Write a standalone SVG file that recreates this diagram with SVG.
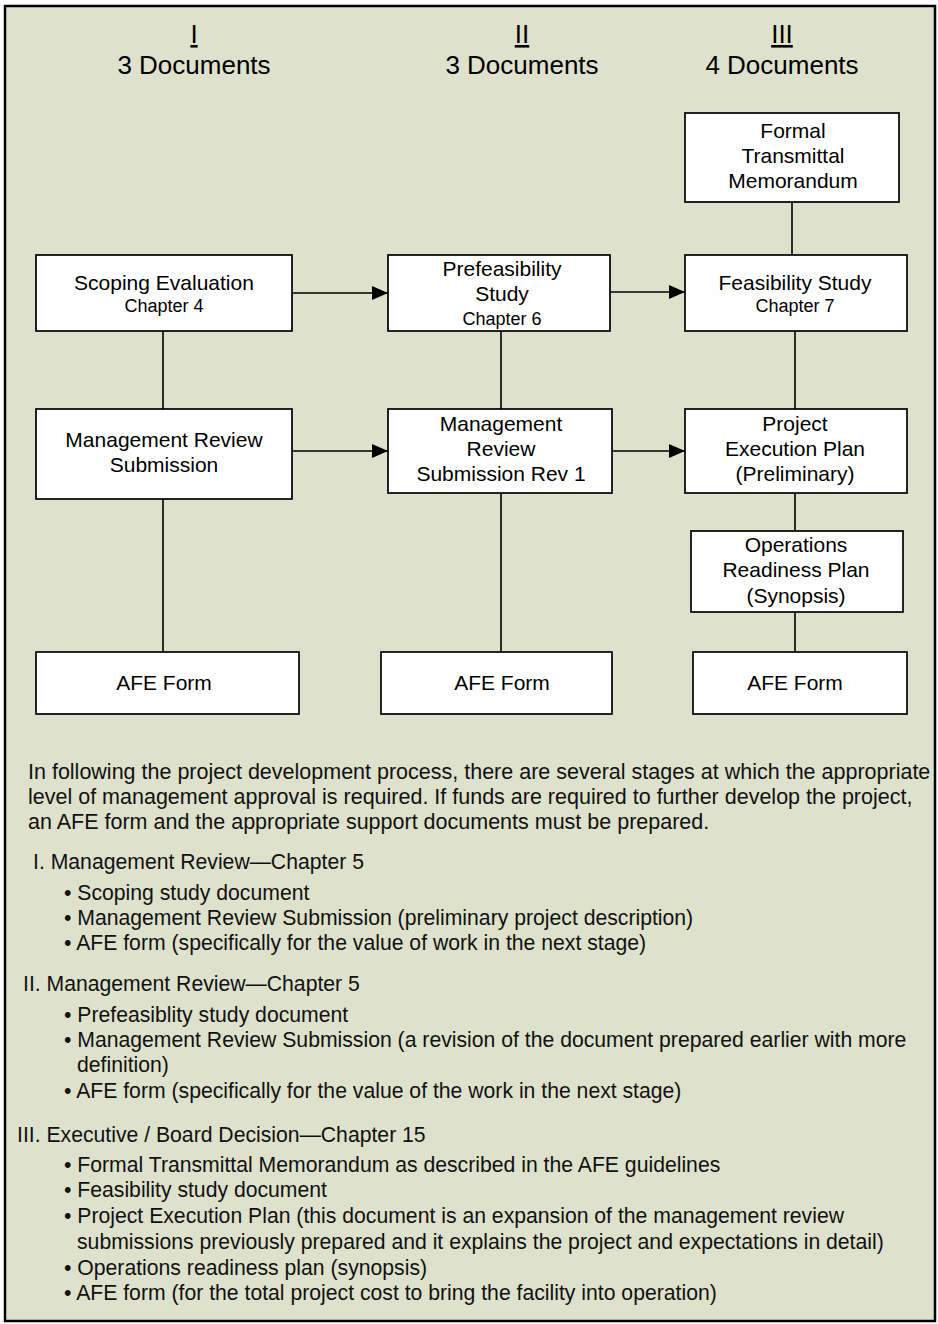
<svg xmlns="http://www.w3.org/2000/svg" width="938" height="1324" viewBox="0 0 938 1324">
  <defs>
    <marker id="arrow" markerWidth="16" markerHeight="14" refX="16" refY="7" orient="auto" markerUnits="userSpaceOnUse">
      <path d="M0,0 L16,7 L0,14 Z" fill="#000"/>
    </marker>
    <style>
      .frame { fill: #DEE1CB; stroke: #000; stroke-width: 2.5; }
      .box { fill: #FFFFFF; stroke: #000; stroke-width: 1.7; }
      .t { font-family: "Liberation Sans", Arial, sans-serif; fill: #000; text-anchor: middle; }
      .lbl { font-size: 21px; }
      .ch { font-size: 18px; }
      .hdr { font-size: 26px; }
      .body { font-family: "Liberation Sans", Arial, sans-serif; font-size: 21.2px; fill: #111; }
      .intro { font-size: 21.5px; }
      .line { stroke: #000; stroke-width: 1.6; fill: none; }
      .arr { stroke: #000; stroke-width: 1.6; fill: none; marker-end: url(#arrow); }
    </style>
  </defs>

  <!-- panel -->
  <rect class="frame" x="5" y="6" width="930" height="1315"/>

  <!-- column headings -->
  <g id="headings">
    <text class="t hdr" x="194" y="43" text-decoration="underline">I</text>
    <text class="t hdr" x="194" y="74">3 Documents</text>
    <text class="t hdr" x="522" y="43" text-decoration="underline">II</text>
    <text class="t hdr" x="522" y="74">3 Documents</text>
    <text class="t hdr" x="782" y="43" text-decoration="underline">III</text>
    <text class="t hdr" x="782" y="74">4 Documents</text>
  </g>

  <!-- connectors -->
  <g id="connectors">
    <line class="line" x1="163" y1="331" x2="163" y2="409"/>
    <line class="line" x1="163" y1="499" x2="163" y2="652"/>
    <line class="line" x1="501" y1="331" x2="501" y2="409"/>
    <line class="line" x1="501" y1="493" x2="501" y2="652"/>
    <line class="line" x1="792" y1="202" x2="792" y2="255"/>
    <line class="line" x1="795" y1="331" x2="795" y2="409"/>
    <line class="line" x1="795" y1="493" x2="795" y2="531"/>
    <line class="line" x1="795" y1="612" x2="795" y2="652"/>
    <line class="arr" x1="292" y1="293" x2="388" y2="293"/>
    <line class="arr" x1="610" y1="292" x2="685" y2="292"/>
    <line class="arr" x1="292" y1="451" x2="388" y2="451"/>
    <line class="arr" x1="612" y1="451" x2="685" y2="451"/>
  </g>

  <!-- stage I -->
  <g id="scoping-evaluation">
    <rect class="box" x="36" y="255" width="256" height="76"/>
    <text class="t lbl" x="164" y="290">Scoping Evaluation</text>
    <text class="t ch" x="164" y="312">Chapter 4</text>
  </g>
  <g id="management-review-submission">
    <rect class="box" x="36" y="409" width="256" height="90"/>
    <text class="t lbl" x="164" y="447">Management Review</text>
    <text class="t lbl" x="164" y="472">Submission</text>
  </g>
  <g id="afe-form-1">
    <rect class="box" x="36" y="652" width="263" height="62"/>
    <text class="t lbl" x="164" y="690">AFE Form</text>
  </g>

  <!-- stage II -->
  <g id="prefeasibility-study">
    <rect class="box" x="388" y="255" width="222" height="76"/>
    <text class="t lbl" x="502" y="276">Prefeasibility</text>
    <text class="t lbl" x="502" y="301">Study</text>
    <text class="t ch" x="502" y="325">Chapter 6</text>
  </g>
  <g id="management-review-submission-rev1">
    <rect class="box" x="388" y="409" width="224" height="84"/>
    <text class="t lbl" x="501" y="431">Management</text>
    <text class="t lbl" x="501" y="456">Review</text>
    <text class="t lbl" x="501" y="481">Submission Rev 1</text>
  </g>
  <g id="afe-form-2">
    <rect class="box" x="381" y="652" width="231" height="62"/>
    <text class="t lbl" x="502" y="690">AFE Form</text>
  </g>

  <!-- stage III -->
  <g id="formal-transmittal-memorandum">
    <rect class="box" x="685" y="113" width="214" height="89"/>
    <text class="t lbl" x="793" y="138">Formal</text>
    <text class="t lbl" x="793" y="163">Transmittal</text>
    <text class="t lbl" x="793" y="188">Memorandum</text>
  </g>
  <g id="feasibility-study">
    <rect class="box" x="685" y="255" width="222" height="76"/>
    <text class="t lbl" x="795" y="290">Feasibility Study</text>
    <text class="t ch" x="795" y="312">Chapter 7</text>
  </g>
  <g id="project-execution-plan">
    <rect class="box" x="685" y="409" width="222" height="84"/>
    <text class="t lbl" x="795" y="431">Project</text>
    <text class="t lbl" x="795" y="456">Execution Plan</text>
    <text class="t lbl" x="795" y="481">(Preliminary)</text>
  </g>
  <g id="operations-readiness-plan">
    <rect class="box" x="691" y="531" width="212" height="81"/>
    <text class="t lbl" x="796" y="552">Operations</text>
    <text class="t lbl" x="796" y="577">Readiness Plan</text>
    <text class="t lbl" x="796" y="603">(Synopsis)</text>
  </g>
  <g id="afe-form-3">
    <rect class="box" x="693" y="652" width="214" height="62"/>
    <text class="t lbl" x="795" y="690">AFE Form</text>
  </g>

  <!-- explanatory notes -->
  <g id="notes" class="body">
    <text class="intro" x="28" y="779">In following the project development process, there are several stages at which the appropriate</text>
    <text class="intro" x="28" y="804">level of management approval is required. If funds are required to further develop the project,</text>
    <text class="intro" x="28" y="829">an AFE form and the appropriate support documents must be prepared.</text>

    <text x="33" y="869">I. Management Review—Chapter 5</text>
    <text x="64" y="900">• Scoping study document</text>
    <text x="64" y="925">• Management Review Submission (preliminary project description)</text>
    <text x="64" y="950">• AFE form (specifically for the value of work in the next stage)</text>

    <text x="23" y="991">II. Management Review—Chapter 5</text>
    <text x="64" y="1022">• Prefeasiblity study document</text>
    <text x="64" y="1047">• Management Review Submission (a revision of the document prepared earlier with more</text>
    <text x="77" y="1072">definition)</text>
    <text x="64" y="1098">• AFE form (specifically for the value of the work in the next stage)</text>

    <text x="17" y="1142">III. Executive / Board Decision—Chapter 15</text>
    <text x="64" y="1172">• Formal Transmittal Memorandum as described in the AFE guidelines</text>
    <text x="64" y="1197">• Feasibility study document</text>
    <text x="64" y="1223">• Project Execution Plan (this document is an expansion of the management review</text>
    <text x="77" y="1249">submissions previously prepared and it explains the project and expectations in detail)</text>
    <text x="64" y="1275">• Operations readiness plan (synopsis)</text>
    <text x="64" y="1300">• AFE form (for the total project cost to bring the facility into operation)</text>
  </g>
</svg>
